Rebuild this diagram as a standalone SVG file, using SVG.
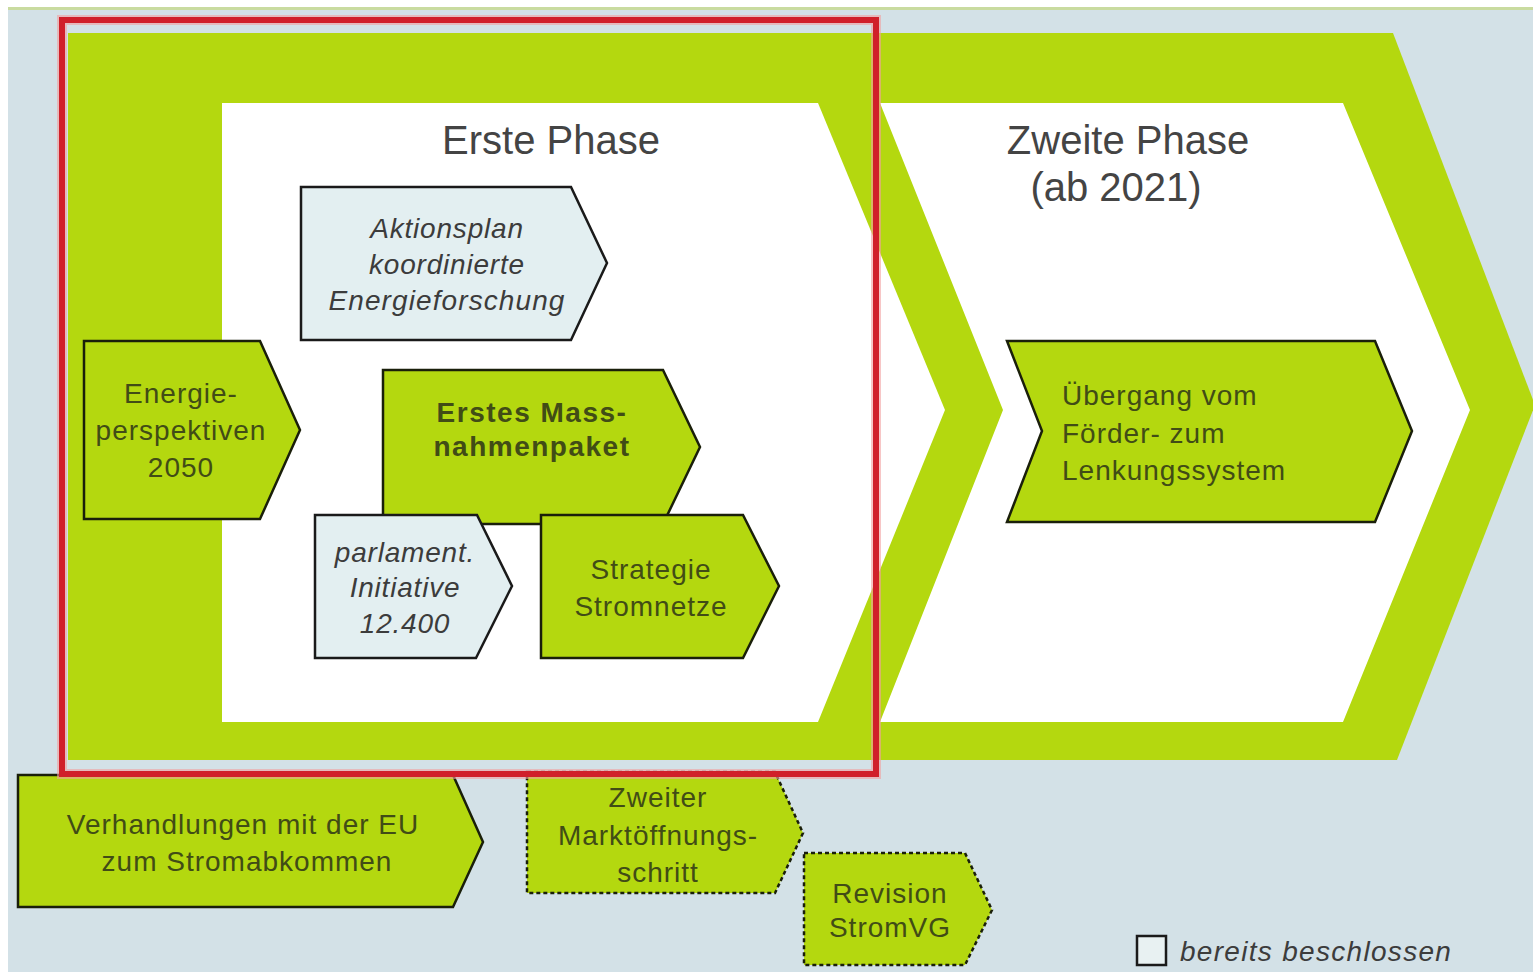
<svg xmlns="http://www.w3.org/2000/svg" width="1533" height="972" viewBox="0 0 1533 972">
<style>
.g{fill:#b4d80f;stroke:#1a1f0a;stroke-width:2.5;stroke-linejoin:miter}
.b{fill:#e3eff1;stroke:#1a1a1a;stroke-width:2.5}
.d{fill:#b4d80f;stroke:#1a1f0a;stroke-width:2.5;stroke-dasharray:4 3}
.t{font-family:"Liberation Sans",Arial,sans-serif;font-size:28px;letter-spacing:1px;text-anchor:middle;fill:#414c16}
.bo{font-weight:bold;letter-spacing:1.5px}
.i{font-family:"Liberation Sans",Arial,sans-serif;font-size:28px;letter-spacing:0.8px;text-anchor:middle;fill:#3c3c3c;font-style:italic}
.h{font-family:"Liberation Sans",Arial,sans-serif;font-size:40px;text-anchor:middle;fill:#444}
</style>
<rect width="1533" height="972" fill="#ffffff"/>
<rect x="8" y="7" width="1525" height="965" fill="#d3e1e7"/>
<rect x="8" y="7" width="1525" height="3" fill="#c9dba0"/>
<g id="phases">
<polygon points="68,33 1393,33 1535,405 1397,760 68,760" fill="#b4d80f"/>
<polygon points="222,103 818,103 945,410 818,722 222,722" fill="#ffffff"/>
<polygon points="880,103 1343,103 1470,410 1343,722 880,722 1003,410" fill="#ffffff"/>
<text class="h" x="551" y="154">Erste Phase</text>
<text class="h" x="1128" y="154">Zweite Phase</text>
<text class="h" x="1116" y="201">(ab 2021)</text>
</g>
<g id="aktionsplan">
<polygon class="b" points="301,187 571,187 607,263 571,340 301,340"/>
<text class="i" x="447" y="238">Aktionsplan</text>
<text class="i" x="447" y="274">koordinierte</text>
<text class="i" x="447" y="310" style="letter-spacing:1.1px">Energieforschung</text>
</g>
<g id="energieperspektiven">
<polygon class="g" points="84,341 260,341 300,430 260,519 84,519"/>
<text class="t" x="181" y="403">Energie-</text>
<text class="t" x="181" y="440">perspektiven</text>
<text class="t" x="181" y="477">2050</text>
</g>
<g id="massnahmenpaket">
<polygon class="g" points="383,370 663,370 700,447 663,524 383,524"/>
<text class="t bo" x="532" y="422">Erstes Mass-</text>
<text class="t bo" x="532" y="456">nahmenpaket</text>
</g>
<g id="parlament">
<polygon class="b" points="315,515 477,515 512,586 476,658 315,658"/>
<text class="i" x="405" y="562">parlament.</text>
<text class="i" x="405" y="597">Initiative</text>
<text class="i" x="405" y="633">12.400</text>
</g>
<g id="strategie">
<polygon class="g" points="541,515 743,515 779,586 743,658 541,658"/>
<text class="t" x="651" y="579">Strategie</text>
<text class="t" x="651" y="616">Stromnetze</text>
</g>
<g id="uebergang">
<polygon class="g" points="1007,341 1375,341 1412,431 1375,522 1007,522 1042,431"/>
<text class="t" x="1062" y="405" style="text-anchor:start">Übergang vom</text>
<text class="t" x="1062" y="443" style="text-anchor:start">Förder- zum</text>
<text class="t" x="1062" y="480" style="text-anchor:start">Lenkungssystem</text>
</g>
<g id="verhandlungen">
<polygon class="g" points="18,775 453,775 483,842 453,907 18,907"/>
<text class="t" x="243" y="834">Verhandlungen mit der EU</text>
<text class="t" x="247" y="871">zum Stromabkommen</text>
</g>
<g id="marktoeffnung">
<polygon class="d" points="527,772 775,772 803,833 775,893 527,893"/>
<text class="t" x="658" y="807">Zweiter</text>
<text class="t" x="658" y="845">Marktöffnungs-</text>
<text class="t" x="658" y="882">schritt</text>
</g>
<g id="revision">
<polygon class="d" points="804,853 965,853 992,910 965,965 804,965"/>
<text class="t" x="890" y="903">Revision</text>
<text class="t" x="890" y="937">StromVG</text>
</g>
<g id="legend">
<rect x="1137" y="936" width="29" height="29" fill="#e8f1f2" stroke="#1a1a1a" stroke-width="2.5"/>
<text class="i" x="1180" y="961" style="text-anchor:start;letter-spacing:1.3px">bereits beschlossen</text>
</g>
<g id="connectors"></g>
<g id="highlight">
<rect x="62" y="20" width="814" height="754" fill="none" stroke="#f2a0a0" stroke-width="10" opacity="0.6"/>
<rect x="62" y="20" width="814" height="754" fill="none" stroke="#d0202a" stroke-width="6"/>
</g>
</svg>
